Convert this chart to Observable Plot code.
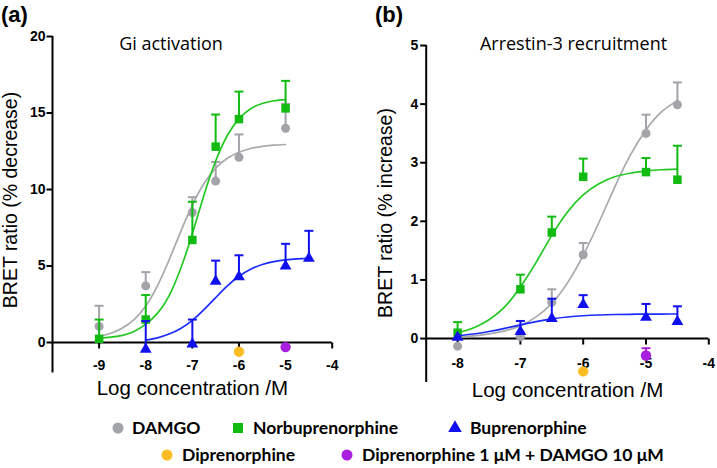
<!DOCTYPE html>
<html><head><meta charset="utf-8">
<script src="https://cdn.jsdelivr.net/npm/d3@7"></script>
<script src="https://cdn.jsdelivr.net/npm/@observablehq/plot@0.6"></script>
<style>
html,body{margin:0;padding:0;background:#fff;}
#fig{position:relative;width:717px;height:468px;overflow:hidden;font-family:"Liberation Sans",Arial,sans-serif;color:#000;}
.abs{position:absolute;white-space:nowrap;line-height:1;}
.plab{font-family:"Liberation Sans",Arial,sans-serif;font-weight:bold;font-size:22px;}
.ptitle{font-family:"Open Sans",Lato,sans-serif;font-size:18px;transform:translate(-50%,-50%);}
.ytitle{font-family:"Liberation Sans",Arial,sans-serif;font-size:19.5px;transform:translate(-50%,-50%) rotate(-90deg);}
.leg{font-family:Lato,"Open Sans",sans-serif;font-weight:bold;font-size:17.5px;transform:translateY(-50%);}
.legm{position:absolute;transform:translate(-50%,-50%);}
</style></head><body><div id="fig"></div>
<script>
// ---------- axis ticks ----------
const xTicksA = [-9, -8, -7, -6, -5, -4];
const yTicksA = [0, 5, 10, 15, 20];
const xTicksB = [-8, -7, -6, -5, -4];
const yTicksB = [0, 1, 2, 3, 4, 5];

// ---------- series ----------
const seriesNames = ["DAMGO", "Norbuprenorphine", "Buprenorphine", "Diprenorphine", "Diprenorphine 1 μM + DAMGO 10 μM"];
const seriesColors = ["#a3a3aa", "#11bb11", "#1010ee", "#fbbd23", "#a81fe0"];
const curveColors = ["#a8a8ae", "#22c822", "#1a2cff", null, null];
const seriesSymbols = ["circle", "square", "triangle", "circle", "circle"];

// ---------- panel (a) Gi activation: points (log M, mean, upper SEM end) ----------
const aDamgoX = [-9, -8, -7, -6.5, -6, -5];
const aDamgoY = [1.05, 3.7, 8.5, 10.55, 12.1, 14.0];
const aDamgoHi = [2.4, 4.6, 9.5, 11.8, 13.6, 15.6];
const aNorX = [-9, -8, -7, -6.5, -6, -5];
const aNorY = [0.24, 1.5, 6.7, 12.8, 14.6, 15.3];
const aNorHi = [1.5, 3.1, 9.2, 14.9, 16.4, 17.1];
const aBupX = [-8, -7, -6.5, -6, -5, -4.5];
const aBupY = [-0.44, -0.1, 4.0, 4.3, 5.0, 5.5];
const aBupHi = [1.4, 1.5, 5.35, 5.7, 6.45, 7.3];
const aDipX = [-6];
const aDipY = [-0.6];
const aDipHi = [null];
const aMixX = [-5];
const aMixY = [-0.3];
const aMixHi = [null];

// fitted curves (a)
const aFitX1 = [-9, -8.75, -8.5, -8.25, -8, -7.75, -7.5, -7.25, -7, -6.75, -6.5, -6.25, -6, -5.75, -5.5, -5.25, -5];
const aFitDamgo = [0.4, 0.6, 0.95, 1.5, 2.38, 3.7, 5.39, 7.25, 8.98, 10.39, 11.39, 12.04, 12.44, 12.68, 12.82, 12.9, 12.94];
const aFitNor = [0.28, 0.35, 0.47, 0.72, 1.2, 1.9, 3.05, 4.84, 7.1, 9.64, 11.86, 13.53, 14.62, 15.28, 15.62, 15.8, 15.88];
const aFitX2 = [-8, -7.75, -7.5, -7.25, -7, -6.75, -6.5, -6.25, -6, -5.75, -5.5, -5.25, -5, -4.75, -4.5];
const aFitBup = [0.15, 0.3, 0.55, 0.92, 1.45, 2.15, 2.93, 3.7, 4.33, 4.79, 5.1, 5.29, 5.4, 5.46, 5.5];

// ---------- panel (b) Arrestin-3 recruitment ----------
const bDamgoX = [-8, -7, -6.5, -6, -5, -4.5];
const bDamgoY = [-0.13, 0.03, 0.62, 1.43, 3.5, 3.99];
const bDamgoHi = [null, 0.1, 0.84, 1.63, 3.82, 4.37];
const bNorX = [-8, -7, -6.5, -6, -5, -4.5];
const bNorY = [0.1, 0.84, 1.81, 2.76, 2.84, 2.71];
const bNorHi = [0.28, 1.09, 2.08, 3.07, 3.08, 3.29];
const bBupX = [-8, -7, -6.5, -6, -5, -4.5];
const bBupY = [0.02, 0.12, 0.34, 0.58, 0.36, 0.29];
const bBupHi = [null, 0.3, 0.68, 0.74, 0.59, 0.55];
const bDipX = [-6];
const bDipY = [-0.56];
const bDipHi = [null];
const bMixX = [-5];
const bMixY = [-0.29];
const bMixHi = [-0.165];

const bFitX = [-8, -7.75, -7.5, -7.25, -7, -6.75, -6.5, -6.25, -6, -5.75, -5.5, -5.25, -5, -4.75, -4.5];
const bFitDamgo = [0.02, 0.045, 0.08, 0.13, 0.22, 0.37, 0.6, 0.95, 1.42, 1.98, 2.58, 3.13, 3.56, 3.87, 4.06];
const bFitNor = [0.1, 0.18, 0.32, 0.54, 0.88, 1.3, 1.76, 2.16, 2.45, 2.64, 2.76, 2.82, 2.86, 2.88, 2.89];
const bFitBup = [0.047, 0.077, 0.12, 0.174, 0.234, 0.29, 0.336, 0.368, 0.389, 0.402, 0.41, 0.414, 0.417, 0.418, 0.419];

// ---------- helpers ----------
const pts = (i, xs, ys, his) => xs.map((x, k) => ({s: i, x, y: ys[k], hi: his[k]}));
const crv = (i, xs, ys) => xs.map((x, k) => ({s: i, x, y: ys[k]}));

const capSym = {draw(c) { c.moveTo(-4.5, 0); c.lineTo(4.5, 0); }};
const tickDown = {draw(c) { c.moveTo(0, 0); c.lineTo(0, 6); }};
const tickLeft = {draw(c) { c.moveTo(0, 0); c.lineTo(-6, 0); }};
const symR = {circle: 4.5, square: 4.8, triangle: 4.4};
const symRSingle = 5.2;

function panel(o) {
  const marks = [
    Plot.ruleY([0], {stroke: "#000", strokeWidth: 2}),
    Plot.ruleX([o.xDomain[0]], {stroke: "#000", strokeWidth: 2}),
    Plot.dot(o.xTicks, {x: d => d, y: 0, symbol: tickDown, stroke: "#000", fill: "none", strokeWidth: 2}),
    Plot.dot(o.yTicks, {x: o.xDomain[0], y: d => d, symbol: tickLeft, stroke: "#000", fill: "none", strokeWidth: 2}),
    Plot.text(o.xTicks, {x: d => d, y: 0, dy: o.xLabDy, text: d => String(d), fontFamily: "Liberation Sans, Arial, sans-serif", fontWeight: "bold", fontSize: 14, fill: "#000"}),
    Plot.text(o.yTicks, {x: o.xDomain[0], y: d => d, dx: o.yLabDx, textAnchor: "end", text: d => String(d), fontFamily: "Liberation Sans, Arial, sans-serif", fontWeight: "bold", fontSize: 14, fill: "#000"}),
    Plot.text(["Log concentration /M"], {frameAnchor: "bottom", lineAnchor: "middle", dy: o.xTitleDy, text: d => d, fontFamily: "Liberation Sans, Arial, sans-serif", fontSize: 20.5, fill: "#000"})
  ];
  o.series.forEach(({i, points, curve}) => {
    const col = seriesColors[i];
    if (curve) marks.push(Plot.line(curve, {x: "x", y: "y", stroke: curveColors[i], strokeWidth: 1.7, curve: "natural"}));
    const withErr = points.filter(d => d.hi != null);
    marks.push(Plot.ruleX(withErr, {x: "x", y1: "y", y2: "hi", stroke: col, strokeWidth: 2}));
    marks.push(Plot.dot(withErr, {x: "x", y: "hi", symbol: capSym, stroke: col, fill: "none", strokeWidth: 2}));
    marks.push(Plot.dot(points, {x: "x", y: "y", symbol: seriesSymbols[i], fill: col, stroke: "none", r: i >= 3 ? symRSingle : symR[seriesSymbols[i]]}));
  });
  return Plot.plot({
    width: o.width, height: o.height,
    marginLeft: o.mL, marginRight: o.mR, marginTop: o.mT, marginBottom: o.mB,
    x: {domain: o.xDomain, axis: null},
    y: {domain: o.yDomain, axis: null},
    style: {overflow: "visible", background: "transparent"},
    marks
  });
}

const fig = document.getElementById("fig");

const svgA = panel({
  width: 360, height: 405, mL: 52, mR: 28.3, mT: 36, mB: 32.4,
  xDomain: [-10, -4], yDomain: [-2, 20], xTicks: xTicksA, yTicks: yTicksA,
  xLabDy: 23.5, yLabDx: -7, xTitleDy: 15.5,
  series: [
    {i: 0, points: pts(0, aDamgoX, aDamgoY, aDamgoHi), curve: crv(0, aFitX1, aFitDamgo)},
    {i: 1, points: pts(1, aNorX, aNorY, aNorHi), curve: crv(1, aFitX1, aFitNor)},
    {i: 2, points: pts(2, aBupX, aBupY, aBupHi), curve: crv(2, aFitX2, aFitBup)},
    {i: 3, points: pts(3, aDipX, aDipY, aDipHi)},
    {i: 4, points: pts(4, aMixX, aMixY, aMixHi)}
  ]
});
const svgB = panel({
  width: 357, height: 405, mL: 65.7, mR: 8.7, mT: 45, mB: 23,
  xDomain: [-8.5, -4], yDomain: [-0.75, 5], xTicks: xTicksB, yTicks: yTicksB,
  xLabDy: 25, yLabDx: -8, xTitleDy: 8,
  series: [
    {i: 0, points: pts(0, bDamgoX, bDamgoY, bDamgoHi), curve: crv(0, bFitX, bFitDamgo)},
    {i: 1, points: pts(1, bNorX, bNorY, bNorHi), curve: crv(1, bFitX, bFitNor)},
    {i: 2, points: pts(2, bBupX, bBupY, bBupHi), curve: crv(2, bFitX, bFitBup)},
    {i: 3, points: pts(3, bDipX, bDipY, bDipHi)},
    {i: 4, points: pts(4, bMixX, bMixY, bMixHi)}
  ]
});
function place(el, left, top) { el.style.position = "absolute"; el.style.left = left + "px"; el.style.top = top + "px"; fig.appendChild(el); }
place(svgA, 0, 0);
place(svgB, 360, 0);

function addText(cls, txt, left, top) {
  const d = document.createElement("div");
  d.className = "abs " + cls; d.textContent = txt;
  d.style.left = left + "px"; d.style.top = top + "px";
  fig.appendChild(d); return d;
}
addText("plab", "(a)", 1, 4);
addText("plab", "(b)", 375, 4);
addText("ptitle", "Gi activation", 171, 43);
addText("ptitle", "Arrestin-3 recruitment", 573.5, 42.5);
addText("ytitle", "BRET ratio (% decrease)", 11, 200);
addText("ytitle", "BRET ratio (% increase)", 386, 213);

// legend layout: [marker centre x, text left x, centre y]
const legendLayout = [[118, 132, 428], [238, 253, 428], [455, 470, 428], [167, 182, 455], [347, 362, 455]];
const legSymbolSize = {circle: 95, square: 100, triangle: 80};
seriesNames.forEach((name, i) => {
  const [mx, tx, cy] = legendLayout[i];
  const sym = seriesSymbols[i];
  const sz = legSymbolSize[sym];
  const path = d3.symbol(sym === "circle" ? d3.symbolCircle : sym === "square" ? d3.symbolSquare : d3.symbolTriangle, sz)();
  const m = document.createElementNS("http://www.w3.org/2000/svg", "svg");
  m.setAttribute("width", 16); m.setAttribute("height", 16);
  m.setAttribute("viewBox", "-8 -8 16 16");
  m.classList.add("legm");
  m.style.left = mx + "px"; m.style.top = cy + "px";
  const p = document.createElementNS("http://www.w3.org/2000/svg", "path");
  p.setAttribute("d", path); p.setAttribute("fill", seriesColors[i]);
  m.appendChild(p); fig.appendChild(m);
  addText("leg", name, tx, cy);
});
</script></body></html>
